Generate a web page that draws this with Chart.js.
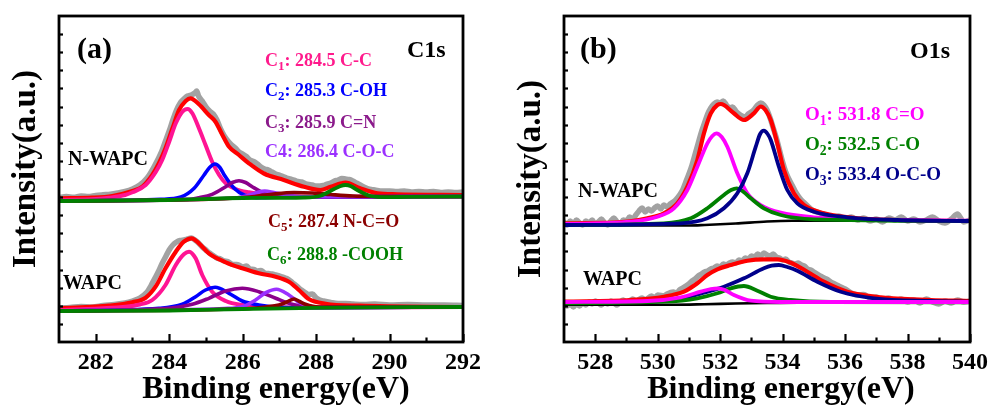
<!DOCTYPE html>
<html>
<head>
<meta charset="utf-8">
<script src="https://cdn.jsdelivr.net/npm/chart.js@4.4.1/dist/chart.umd.min.js"></script>
<style>
  html, body { margin: 0; padding: 0; background: #fff; }
  #wrap { position: relative; width: 991px; height: 409px; }
  #wrap canvas { position: absolute; left: 0; top: 0; }
</style>
</head>
<body>
<div id="wrap">
  <canvas id="c1s" width="991" height="409"></canvas>
  <canvas id="o1s" width="991" height="409"></canvas>
</div>
<script>
// ---------- axis ticks (binding energy, eV) ----------
const c1sTicks = [282, 284, 286, 288, 290, 292];
const c1sMinorTicks = [283, 285, 287, 289, 291];
const o1sTicks = [528, 530, 532, 534, 536, 538, 540];
const o1sMinorTicks = [529, 531, 533, 535, 537, 539];

// ---------- C1s, N-WAPC (energy, intensity a.u.) ----------
const nwapcC1sRaw = [[281.0,144.5],[281.2,145.5],[281.4,144.8],[281.6,146],[281.8,145.4],[282.0,146.5],[282.2,147.2],[282.4,147.8],[282.6,149],[282.8,150.5],[283.0,153],[283.2,157],[283.4,164],[283.6,176],[283.8,191],[283.9,201],[284.0,211],[284.1,222],[284.2,232],[284.3,239],[284.4,243],[284.5,246],[284.6,247],[284.7,249],[284.75,251],[284.8,246],[284.9,241],[285.0,235],[285.1,231],[285.2,228],[285.3,222],[285.4,213],[285.5,206],[285.6,201],[285.7,197],[285.8,194],[285.9,190],[286.0,188],[286.1,185.5],[286.2,182],[286.3,180.5],[286.4,178],[286.5,175],[286.6,173],[286.7,172],[286.8,170],[286.9,168],[287.0,167],[287.1,165.5],[287.2,164],[287.3,163],[287.4,162],[287.5,160.5],[287.6,160],[287.7,158.5],[287.8,157.5],[287.9,157],[288.0,156],[288.1,156],[288.2,156.5],[288.3,158],[288.4,159],[288.5,161],[288.6,162],[288.7,163.5],[288.8,163],[288.9,162.5],[289.0,161],[289.1,159],[289.2,157],[289.3,155],[289.4,153.5],[289.5,152.5],[289.6,152],[289.8,151],[290.0,151],[290.2,150.5],[290.4,151],[290.6,150],[290.8,150.5],[291.0,150],[291.2,150.5],[291.4,149.5],[291.6,150],[291.8,149.5],[292.0,150]];
const nwapcC1sFit = [[281,143.7],[281.9,144.3],[282.45,146],[283.0,151],[283.27,155.3],[283.54,167],[283.72,178.7],[283.9,193.7],[284.09,213.7],[284.27,232],[284.45,241],[284.58,243.7],[284.81,237.7],[285.08,227],[285.26,220.3],[285.45,207],[285.63,195.3],[285.9,187],[286.17,178.7],[286.58,168.5],[287.12,162],[287.67,155.3],[288.12,152],[288.4,155.3],[288.8,159.3],[289.2,153.7],[289.67,148.7],[290.2,147.7],[292,147]];
const nwapcC1 = [[281,142],[282,143],[282.36,144.3],[282.8,147],[283.0,149.7],[283.36,157],[283.63,169.7],[283.81,182],[284.0,200.3],[284.18,218.7],[284.36,230.3],[284.5,233],[284.63,228.7],[284.81,213.7],[284.99,197],[285.17,180.3],[285.36,167],[285.54,158.7],[285.81,153],[286.17,149.7],[286.58,147.7],[287.2,146],[288,145.3],[292,145.5]];
const nwapcC2 = [[281,141],[283.77,142.7],[284.32,145],[284.68,153.7],[284.95,167],[285.1,174.5],[285.25,178],[285.38,174.5],[285.5,167],[285.77,153.7],[286.04,147],[286.5,144.3],[287,144.7],[292,145.5]];
const nwapcC3 = [[281,141],[284.5,142.6],[284.81,144.3],[285.17,147.7],[285.54,155.3],[285.72,159.5],[285.9,161.3],[286.08,159.5],[286.26,155.3],[286.54,149.7],[286.9,146.5],[287.4,145],[292,145.5]];
const nwapcC4 = [[281,141],[285.8,144],[286.1,146],[286.4,149.5],[286.6,151],[286.85,149.5],[287.2,147],[287.6,145.3],[292,145.5]];
const nwapcC5 = [[281,141],[285.5,143.2],[286.2,145],[286.8,147.8],[287.4,149.5],[287.9,149],[288.4,147.5],[289.0,146],[289.6,145.6],[292,145.5]];
const nwapcC6 = [[281,141],[284,142],[286,144],[287.67,144.5],[288.12,146.3],[288.49,153],[288.65,155.8],[288.8,157],[288.95,155.8],[289.12,152],[289.48,146],[289.94,144.8],[290.5,145.2],[292,145.5]];

// ---------- C1s, WAPC ----------
const wapcC1sRaw = [[281.0,34],[281.3,34.5],[281.6,35.5],[281.9,35],[282.2,36.5],[282.5,37.5],[282.8,39],[283.0,41],[283.2,44],[283.4,50],[283.5,56],[283.6,63],[283.7,70],[283.8,78],[283.9,85],[284.0,92],[284.1,97],[284.2,100],[284.3,101.5],[284.4,102],[284.5,103],[284.6,104],[284.7,102],[284.8,99],[284.9,95],[285.0,92],[285.1,89],[285.2,86.5],[285.3,84],[285.4,83],[285.5,81],[285.6,80.5],[285.7,78],[285.8,77.5],[285.9,77],[286.0,75],[286.1,76],[286.2,73],[286.3,72.5],[286.4,71],[286.5,71.5],[286.6,69],[286.7,68.5],[286.8,68],[286.9,67],[287.0,66],[287.1,65],[287.2,63.5],[287.3,61],[287.4,58],[287.5,55],[287.6,52],[287.7,49.5],[287.8,47.5],[287.9,48],[288.0,44],[288.1,42],[288.2,41],[288.4,39.5],[288.6,38.5],[288.8,38.5],[289.0,38],[289.3,37.5],[289.6,38],[290.0,37],[290.5,37.5],[291.0,37],[291.5,37],[292.0,36.5]];
const wapcC1sFit = [[281,33.7],[282.36,36.3],[283,39.7],[283.36,44.3],[283.63,55.3],[283.9,73.7],[284.18,90.3],[284.4,100.3],[284.61,103.7],[284.81,98.7],[285.08,88.7],[285.54,79.7],[285.99,73.7],[286.44,68.7],[286.9,65.3],[287.26,60.3],[287.53,52],[287.8,43],[288.26,38.3],[289.17,36.3],[292,35]];
const wapcC1 = [[281,32],[282.81,35.3],[283.2,37.5],[283.54,42],[283.9,57],[284.18,77],[284.4,87.7],[284.54,90.3],[284.72,83.7],[284.9,67],[285.17,50.3],[285.54,41],[285.99,37],[286.9,34.7],[288,34.5],[292,35]];
const wapcC2 = [[281,31],[283.72,33.7],[284.36,37.7],[284.72,45.3],[284.99,52],[285.25,54.7],[285.63,48.7],[285.99,41],[286.44,37],[286.99,34.7],[288,34.3],[292,35]];
const wapcC3 = [[281,31],[283.99,33.7],[284.63,37.7],[285.08,43.7],[285.54,51],[285.99,53.7],[286.44,50.3],[286.9,43.7],[287.35,37.7],[287.9,34.7],[292,35]];
const wapcC4 = [[281,31],[285.5,33.5],[285.99,35.3],[286.35,42],[286.63,49.3],[286.92,52.7],[287.26,47],[287.53,39.7],[287.9,35.3],[288.5,34.5],[292,35]];
const wapcC5 = [[281,31],[286.2,33.5],[286.63,35],[286.99,37],[287.2,40],[287.4,43],[287.55,40.5],[287.71,37.7],[288.08,35],[292,35]];
const wapcC6 = [[281,31],[284,31.5],[286,33],[288,34.2],[292,35]];

// ---------- O1s, N-WAPC ----------
const nwapcO1sRaw = [[527.0,120],[527.1,117],[527.2,121],[527.3,118],[527.4,122],[527.5,119],[527.6,117],[527.7,121],[527.8,119],[527.9,122],[528.0,118],[528.1,120],[528.2,123],[528.3,119],[528.4,117],[528.5,121],[528.6,124],[528.7,120],[528.8,118],[528.9,122],[529.0,121],[529.1,125],[529.2,123],[529.3,127],[529.4,131],[529.5,134],[529.6,130],[529.7,133],[529.8,131],[529.9,134],[530.0,136],[530.1,133],[530.2,137],[530.3,135],[530.4,138],[530.5,140],[530.6,143],[530.7,147],[530.8,152],[530.9,160],[531.0,168],[531.1,177],[531.2,188],[531.3,199],[531.4,210],[531.5,219],[531.6,228],[531.7,234],[531.8,238],[531.9,240],[532.0,239],[532.1,241],[532.2,237],[532.3,234],[532.4,235],[532.5,231],[532.6,228],[532.7,226],[532.8,225],[532.9,228],[533.0,230],[533.1,233],[533.2,237],[533.3,239],[533.4,237],[533.5,232],[533.6,224],[533.7,214],[533.8,204],[533.9,192],[534.0,180],[534.1,170],[534.2,163],[534.3,157],[534.4,151],[534.5,146],[534.6,142],[534.7,139],[534.8,136],[534.9,133],[535.0,131],[535.2,129],[535.4,127],[535.6,125],[535.8,126],[536.0,123],[536.2,125],[536.4,122],[536.6,124],[536.8,121],[537.0,123],[537.2,120],[537.4,124],[537.6,122],[537.8,125],[538.0,121],[538.2,123],[538.4,120],[538.6,122],[538.8,125],[539.0,121],[539.2,119],[539.4,123],[539.6,128],[539.7,124],[539.8,120],[540.0,122]];
const nwapcO1sFit = [[527,118.7],[528.6,119.3],[529.67,123.7],[530.2,128.7],[530.63,138.7],[530.95,155.3],[531.27,182],[531.48,208.7],[531.7,228.7],[531.91,237],[532.02,238],[532.12,237],[532.44,228.7],[532.76,222],[533.08,228.7],[533.3,235.5],[533.45,232],[533.62,222],[533.83,198.7],[534.04,172],[534.36,148.7],[534.68,137],[535.32,128.7],[536.39,123.7],[537.67,122],[540,121]];
const nwapcO1sBase = [[527,116.5],[531.0,116.5],[531.5,117],[532.5,118.5],[533.5,120.5],[534.3,121.2],[540,121.3]];
const nwapcO1 = [[527,118],[529.13,120.3],[529.99,125.3],[530.52,133.7],[530.95,152],[531.27,175.3],[531.59,198.7],[531.75,206],[531.88,208.7],[532.05,205],[532.23,195.3],[532.55,168.7],[532.87,148.7],[533.3,137],[533.94,129.3],[535.0,124.7],[536.6,122.7],[540,121.3]];
const nwapcO2 = [[527,117],[530.2,118.7],[531.06,123.7],[531.59,133.7],[532.12,147],[532.35,152],[532.53,153.7],[532.75,150],[532.98,143.7],[533.4,133.7],[533.94,127],[535.0,122.7],[540,121]];
const nwapcO3 = [[527,117],[530.74,118.7],[531.59,123.7],[532.12,133.7],[532.55,148.7],[532.87,168.7],[533.14,195.3],[533.28,208],[533.4,211.3],[533.52,208],[533.62,202],[533.88,175.3],[534.15,152],[534.47,138.7],[535.0,130.3],[536.07,124.7],[537.67,122],[540,121]];

// ---------- O1s, WAPC ----------
const wapcO1sRaw = [[527.0,39],[527.1,36],[527.2,38],[527.3,35],[527.4,38],[527.5,36],[527.6,39],[527.7,37],[527.8,40],[527.9,38],[528.0,41],[528.1,39],[528.2,37],[528.3,40],[528.4,38],[528.5,41],[528.6,39],[528.7,37],[528.8,40],[528.9,42],[529.0,39],[529.1,41],[529.2,43],[529.3,41],[529.5,44],[529.6,42],[529.8,46],[529.9,44],[530.0,47],[530.2,46],[530.3,48],[530.5,50],[530.6,49],[530.7,52],[530.8,54],[530.9,56],[531.0,58],[531.1,61],[531.2,63],[531.3,66],[531.4,68],[531.5,70],[531.6,71],[531.7,73],[531.8,74],[531.9,76],[532.0,75],[532.1,78],[532.2,77],[532.3,79],[532.4,80],[532.5,79],[532.6,82],[532.7,81],[532.8,84],[532.9,83],[533.0,86],[533.1,85],[533.2,88],[533.3,86],[533.4,89],[533.5,87],[533.6,86],[533.7,88],[533.8,85],[533.9,84],[534.0,82],[534.1,83],[534.2,80],[534.3,79],[534.4,78],[534.5,79],[534.6,77],[534.7,76],[534.8,73],[534.9,72],[535.0,70],[535.2,66],[535.4,63],[535.6,59],[535.8,56],[536.0,53],[536.2,49],[536.4,47],[536.6,47.5],[536.8,44],[537.0,45],[537.2,42],[537.4,44],[537.6,41],[537.8,43],[538.0,40],[538.2,42],[538.4,39],[538.6,43],[538.8,40],[539.0,38],[539.2,41],[539.4,39],[539.6,42],[539.8,40],[540.0,41]];
const wapcO1sFit = [[527,40.3],[529.13,42],[530.2,45.3],[530.84,50.3],[531.27,58.7],[531.59,67],[531.91,72.7],[532.34,77],[532.87,81.3],[533.4,82.7],[533.83,82.7],[534.26,79.3],[534.79,70.3],[535.32,60.3],[536.07,50.3],[537.14,44.7],[538.74,42],[540,41]];
const wapcO1sBase = [[527,37.3],[530.5,37.3],[531.5,37.8],[532.5,38.5],[533.5,39],[534.5,39.3],[540,39.3]];
const wapcO1 = [[527,40],[529.67,41],[530.74,44.7],[531.38,50.3],[531.7,53],[531.93,53.7],[532.15,52],[532.44,47],[532.98,41.3],[533.94,40],[540,40]];
const wapcO2 = [[527,38.7],[530.2,40.3],[531.27,43.7],[531.91,48.7],[532.34,53.7],[532.76,56],[533.19,51.3],[533.62,45.3],[534.26,42],[535.54,40],[540,39.7]];
const wapcO3 = [[527,39.3],[529.67,40.3],[530.74,43.7],[531.48,49.3],[532.12,55.3],[532.76,63.7],[533.4,73.7],[533.65,76.3],[533.88,77],[534.15,75],[534.47,71.3],[535.11,60.3],[535.86,50.3],[536.93,43.7],[538.74,41],[540,40.3]];

// ---------- styling ----------
const Y_MAX = 326;
const SERIF = '"Liberation Serif", "Times New Roman", serif';
const COL = {
  raw: '#a2a2a2', fit: '#ff0000', base: '#000000',
  c1: '#ff1493', c2: '#0000ff', c3: '#8b008b', c4: '#9b30ff', c5: '#8b0000', c6: '#008000',
  o1: '#ff00ff', o2: '#008000', o3: '#00008b'
};

const pts = arr => arr.map(([x, y]) => ({ x, y }));
function line(data, color, width) {
  return {
    data: pts(data), borderColor: color, borderWidth: width,
    pointRadius: 0, fill: false, cubicInterpolationMode: 'monotone',
    borderJoinStyle: 'round', borderCapStyle: 'round'
  };
}
// datasets listed bottom-to-top; lower "order" is painted last
function layered(list) {
  return list.map((d, i) => Object.assign(d, { order: list.length - i }));
}

function drawRich(ctx, x, y, parts, size, color) {
  ctx.save();
  ctx.fillStyle = color;
  ctx.textAlign = 'left';
  ctx.textBaseline = 'middle';
  let cx = x;
  for (const [t, sub] of parts) {
    const s = sub ? size * 0.72 : size;
    ctx.font = `bold ${s}px ${SERIF}`;
    ctx.fillText(t, cx, sub ? y + size * 0.34 : y);
    cx += ctx.measureText(t).width;
  }
  ctx.restore();
}

// frame, inward tick marks, axis titles and in-plot labels
function panelPlugin(cfg) {
  return {
    id: 'panel_' + cfg.id,
    afterDatasetsDraw(chart) {
      const { ctx, chartArea: a, scales } = chart;
      const xs = scales.x;
      ctx.save();
      ctx.strokeStyle = '#000';
      ctx.lineCap = 'butt';
      ctx.lineWidth = 2.2;
      for (const v of cfg.major) {
        const px = Math.round(xs.getPixelForValue(v)) + 0.5;
        ctx.beginPath(); ctx.moveTo(px, a.bottom); ctx.lineTo(px, a.bottom - 8); ctx.stroke();
      }
      for (const v of cfg.minor) {
        const px = Math.round(xs.getPixelForValue(v)) + 0.5;
        ctx.beginPath(); ctx.moveTo(px, a.bottom); ctx.lineTo(px, a.bottom - 4.5); ctx.stroke();
      }
      const ys = scales.y;
      for (let k = 1; k < 18; k++) {
        const py = Math.round(ys.getPixelForValue(Y_MAX * k / 18)) + 0.5;
        ctx.beginPath(); ctx.moveTo(a.left, py); ctx.lineTo(a.left + 4, py); ctx.stroke();
      }
      ctx.lineWidth = 2.8;
      ctx.strokeRect(a.left, a.top, a.right - a.left, a.bottom - a.top);
      ctx.restore();
    },
    afterDraw(chart) {
      const ctx = chart.ctx;
      ctx.save();
      ctx.fillStyle = '#000';
      ctx.font = `bold 32px ${SERIF}`;
      ctx.textAlign = 'center';
      ctx.textBaseline = 'middle';
      ctx.fillText('Binding energy(eV)', cfg.xTitle[0], cfg.xTitle[1]);
      ctx.translate(cfg.yTitle[0], cfg.yTitle[1]);
      ctx.rotate(-Math.PI / 2);
      ctx.font = `bold 33px ${SERIF}`;
      ctx.fillText('Intensity(a.u.)', 0, 0);
      ctx.restore();
      for (const n of cfg.notes) drawRich(ctx, n.x, n.y, n.parts, n.size, n.color);
    }
  };
}

function makeChart(id, datasets, xmin, xmax, ticks, pad, plugin) {
  return new Chart(document.getElementById(id), {
    type: 'line',
    data: { datasets },
    options: {
      responsive: false, animation: false, devicePixelRatio: 1, events: [],
      layout: { padding: pad },
      plugins: { legend: { display: false }, tooltip: { enabled: false } },
      scales: {
        x: {
          type: 'linear', min: xmin, max: xmax,
          afterBuildTicks: s => { s.ticks = ticks.map(v => ({ value: v })); },
          afterFit: s => { s.height = 67; },
          grid: { display: false }, border: { display: false },
          ticks: { color: '#000', padding: -1.5, maxRotation: 0, autoSkip: false,
                   font: { family: SERIF, size: 24, weight: 'bold' } }
        },
        y: { type: 'linear', min: 0, max: Y_MAX, display: false }
      }
    },
    plugins: [plugin]
  });
}

// ---------- panel (a): C1s ----------
makeChart('c1s', layered([
  line(nwapcC1sRaw, COL.raw, 5.5), line(wapcC1sRaw, COL.raw, 5.5),
  line(nwapcC1sFit, COL.fit, 4.2), line(wapcC1sFit, COL.fit, 4.2),
  line(nwapcC1, COL.c1, 4), line(nwapcC2, COL.c2, 3.6), line(nwapcC3, COL.c3, 3.6),
  line(nwapcC4, COL.c4, 3.6), line(nwapcC5, COL.c5, 3.6), line(nwapcC6, COL.c6, 3.8),
  line(wapcC1, COL.c1, 4), line(wapcC2, COL.c2, 3.6), line(wapcC3, COL.c3, 3.6),
  line(wapcC4, COL.c4, 3.6), line(wapcC5, COL.c5, 3.6), line(wapcC6, COL.c6, 3.8)
]), 281, 292, c1sTicks, { left: 59, right: 528, top: 16, bottom: 0 }, panelPlugin({
  id: 'a', major: c1sTicks, minor: c1sMinorTicks,
  xTitle: [276, 390], yTitle: [26, 169],
  notes: [
    { x: 77, y: 50, size: 30, color: '#000', parts: [['(a)']] },
    { x: 407, y: 51, size: 24, color: '#000', parts: [['C1s']] },
    { x: 265, y: 61, size: 18, color: '#ff1a8c', parts: [['C'], ['1', 1], [': 284.5 C-C']] },
    { x: 265, y: 91, size: 18, color: '#0000ff', parts: [['C'], ['2', 1], [': 285.3 C-OH']] },
    { x: 265, y: 123, size: 18, color: '#8b1a8b', parts: [['C'], ['3', 1], [': 285.9 C=N']] },
    { x: 265, y: 152, size: 18, color: '#9b30ff', parts: [['C4: 286.4 C-O-C']] },
    { x: 268, y: 222, size: 18, color: '#8b0000', parts: [['C'], ['5', 1], [': 287.4 N-C=O']] },
    { x: 267, y: 255, size: 18, color: '#008000', parts: [['C'], ['6', 1], [': 288.8 -COOH']] },
    { x: 68, y: 160, size: 20, color: '#000', parts: [['N-WAPC']] },
    { x: 63, y: 284, size: 20, color: '#000', parts: [['WAPC']] }
  ]
}));

// ---------- panel (b): O1s ----------
makeChart('o1s', layered([
  line(nwapcO1sRaw, COL.raw, 5.5), line(wapcO1sRaw, COL.raw, 5.5),
  line(nwapcO1sBase, COL.base, 2.6), line(wapcO1sBase, COL.base, 2.6),
  line(nwapcO1sFit, COL.fit, 4.2), line(wapcO1sFit, COL.fit, 4.2),
  line(nwapcO1, COL.o1, 3.8), line(nwapcO2, COL.o2, 3.8), line(nwapcO3, COL.o3, 3.8),
  line(wapcO3, COL.o3, 3.8), line(wapcO2, COL.o2, 3.8), line(wapcO1, COL.o1, 3.8)
]), 527, 540, o1sTicks, { left: 564, right: 21, top: 16, bottom: 0 }, panelPlugin({
  id: 'b', major: o1sTicks, minor: o1sMinorTicks,
  xTitle: [781, 390], yTitle: [531, 179],
  notes: [
    { x: 580, y: 50, size: 30, color: '#000', parts: [['(b)']] },
    { x: 910, y: 52, size: 24, color: '#000', parts: [['O1s']] },
    { x: 805, y: 115, size: 19, color: '#ff00ff', parts: [['O'], ['1', 1], [': 531.8 C=O']] },
    { x: 805, y: 145, size: 19, color: '#008000', parts: [['O'], ['2', 1], [': 532.5 C-O']] },
    { x: 805, y: 175, size: 19, color: '#00008b', parts: [['O'], ['3', 1], [': 533.4 O-C-O']] },
    { x: 578, y: 192, size: 20, color: '#000', parts: [['N-WAPC']] },
    { x: 583, y: 280, size: 20, color: '#000', parts: [['WAPC']] }
  ]
}));
</script>
</body>
</html>
